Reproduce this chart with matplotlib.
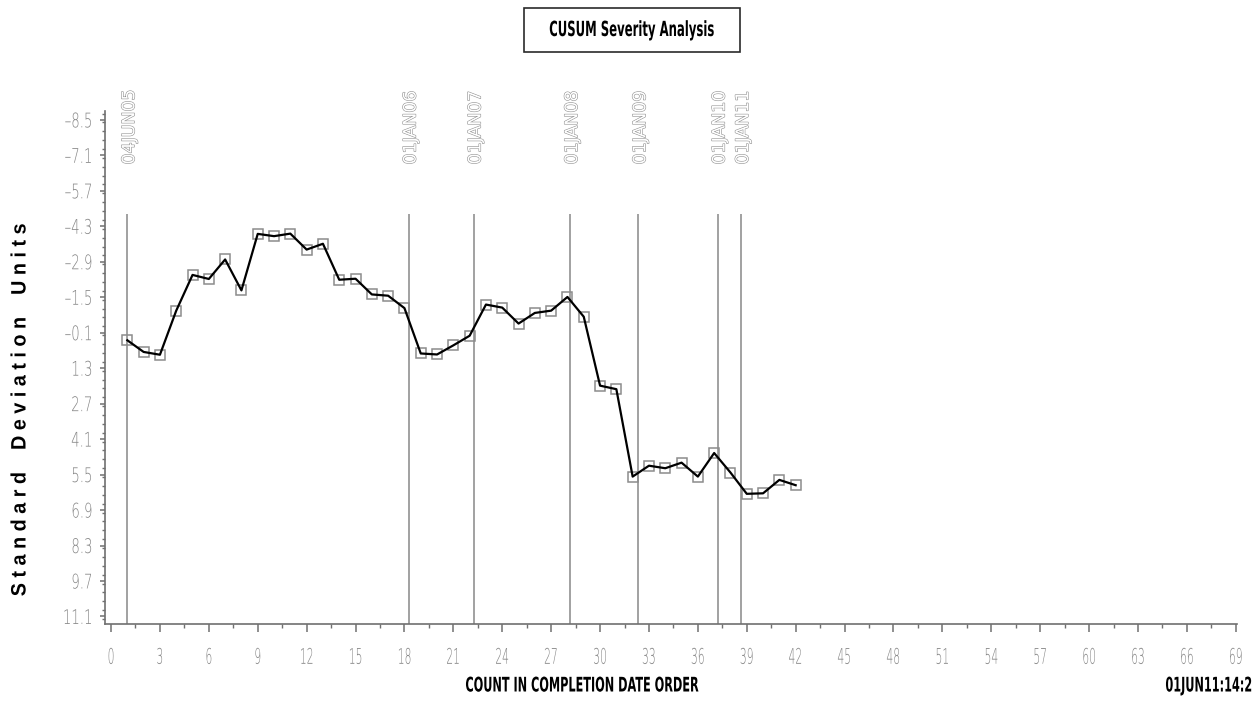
import matplotlib
matplotlib.use("Agg")
import matplotlib.pyplot as plt
import matplotlib.patheffects as pe
from matplotlib.patches import Rectangle
from matplotlib.transforms import Affine2D
from matplotlib.ticker import FixedLocator, FixedFormatter, MultipleLocator

# CUSUM severity, one value per completed item (standard deviation units)
COUNT = list(range(1, 43))
CUSUM = [
    0.20, 0.66, 0.77, -0.97, -2.38, -2.22, -2.99, -1.77, -4.00, -3.91,
    -4.01, -3.38, -3.61, -2.19, -2.23, -1.61, -1.56, -1.07, 0.72, 0.76,
    0.40, 0.02, -1.21, -1.09, -0.46, -0.88, -0.97, -1.51, -0.73, 1.99,
    2.13, 5.58, 5.15, 5.25, 5.03, 5.58, 4.65, 5.42, 6.26, 6.24,
    5.71, 5.92,
]

# date reference lines (position on the count axis)
REF_LABELS = ["04JUN05", "01JAN06", "01JAN07", "01JAN08", "01JAN09", "01JAN10", "01JAN11"]
REF_COUNTS = [1.0, 18.26, 22.24, 28.17, 32.35, 37.21, 38.65]

Y_TICKS = [-8.5, -7.1, -5.7, -4.3, -2.9, -1.5, -0.1, 1.3, 2.7, 4.1, 5.5, 6.9, 8.3, 9.7, 11.1]
X_TICKS = list(range(0, 70, 3))

TITLE = "CUSUM Severity Analysis"
X_LABEL = "COUNT IN COMPLETION DATE ORDER"
Y_LABEL = "Standard Deviation Units"
STAMP = "01JUN11:14:21"


class Condense(pe.AbstractPathEffect):
    """Squeeze glyphs along the text direction (no narrow font is installed)."""

    def __init__(self, sx, anchor="center"):
        super().__init__()
        self.sx = sx
        self.anchor = anchor

    def draw_path(self, renderer, gc, tpath, affine, rgbFace=None):
        ext = tpath.get_extents()
        pivot = {"left": ext.x0, "center": 0.5 * (ext.x0 + ext.x1), "right": ext.x1}[self.anchor]
        squeeze = Affine2D().translate(-pivot, 0).scale(self.sx, 1.0).translate(pivot, 0)
        renderer.draw_path(gc, tpath, squeeze + affine, rgbFace)


W, H = 1252, 715
fig = plt.figure(figsize=(W / 100, H / 100), dpi=100)
fig.patch.set_facecolor("white")

ax = fig.add_axes([105 / W, (H - 624.3) / H, 1131.6 / W, 513.3 / H])
ax.set_xlim(-0.37, 69.05)
ax.set_ylim(11.41, -8.85)

AXIS_GREY = "#707070"
LABEL_GREY = "#858585"

for side in ("top", "right"):
    ax.spines[side].set_visible(False)
for side in ("left", "bottom"):
    ax.spines[side].set_color(AXIS_GREY)
    ax.spines[side].set_linewidth(1.2)

# reference lines with rotated date labels above them
ax.vlines(REF_COUNTS, -4.80, 11.41, color="#9a9a9a", linewidth=1.3, zorder=1)
for xpos, label in zip(REF_COUNTS, REF_LABELS):
    ax.text(xpos + 0.12, -6.74, label, rotation=90, ha="center", va="bottom",
            fontsize=12.5, color="white", family="DejaVu Sans",
            path_effects=[pe.withStroke(linewidth=0.8, foreground="#8f8f8f")])

# markers underneath, connecting line on top
ax.plot(COUNT, CUSUM, "s", markersize=7.5, markerfacecolor="none",
        markeredgecolor="#8c8c8c", markeredgewidth=1.1, zorder=2)
ax.plot(COUNT, CUSUM, "-", color="black", linewidth=1.6, zorder=3)

ax.yaxis.set_major_locator(FixedLocator(Y_TICKS))
ax.yaxis.set_major_formatter(FixedFormatter([f"{v:.1f}".replace("-", "\u2013") for v in Y_TICKS]))
ax.yaxis.set_minor_locator(MultipleLocator(0.35))
ax.xaxis.set_major_locator(FixedLocator(X_TICKS))
ax.xaxis.set_minor_locator(MultipleLocator(1.5))

ax.tick_params(axis="y", which="major", length=3.5, width=1.1, color=AXIS_GREY,
               pad=5, labelsize=14.5, labelcolor=LABEL_GREY)
ax.tick_params(axis="y", which="minor", length=2.2, width=1.0, color=AXIS_GREY)
ax.tick_params(axis="x", which="major", length=5.5, width=1.1, color=AXIS_GREY,
               pad=11.4, labelsize=15.5, labelcolor=LABEL_GREY)
ax.tick_params(axis="x", which="minor", length=3, width=1.0, color=AXIS_GREY)
for lbl in ax.get_xticklabels():
    lbl.set_fontweight("light")
    lbl.set_path_effects([Condense(0.5, "center")])
for lbl in ax.get_yticklabels():
    lbl.set_fontweight("light")
    lbl.set_path_effects([Condense(0.66, "right")])

# title in a box
fig.add_artist(Rectangle((524 / W, 1 - 52 / H), 216 / W, 44 / H, transform=fig.transFigure,
                         facecolor="white", edgecolor="#2a2a2a", linewidth=1.2))
fig.text(632 / W, 1 - 30 / H, TITLE, ha="center", va="center", fontsize=15,
         fontweight="bold", path_effects=[Condense(0.56, "center")])

fig.text(582 / W, 1 - 686 / H, X_LABEL, ha="center", va="center", fontsize=14.5,
         fontweight="bold", path_effects=[Condense(0.56, "center")])
fig.text(20 / W, 1 - 410 / H, " ".join(Y_LABEL).replace("   ", "    "), rotation=90,
         ha="center", va="center", fontsize=15, fontweight="bold", family="Liberation Sans",
         path_effects=[Condense(0.95, "center")])
fig.text(1165 / W, 1 - 686 / H, STAMP, ha="left", va="center", fontsize=14.5,
         fontweight="bold", path_effects=[Condense(0.56, "left")])

fig.savefig("out.png", dpi=100)
